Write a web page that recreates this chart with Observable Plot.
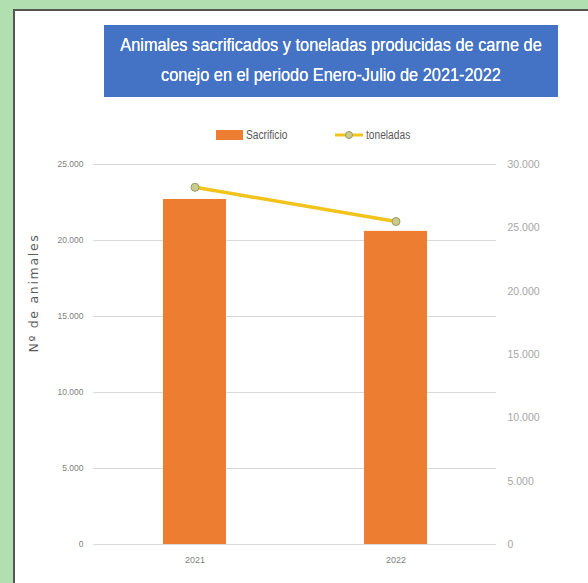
<!DOCTYPE html>
<html>
<head>
<meta charset="utf-8">
<script src="https://cdn.jsdelivr.net/npm/d3@7"></script>
<script src="https://cdn.jsdelivr.net/npm/@observablehq/plot@0.6"></script>
<style>
  html, body { margin: 0; padding: 0; }
  body { width: 588px; height: 583px; background: #b2dfb0; position: relative; overflow: hidden; font-family: "Liberation Sans", sans-serif; }
  #panel { position: absolute; left: 13px; top: 9px; width: 580px; height: 580px; background: #fff; border-left: 2px solid #555; border-top: 2px solid #555; }
  #title { position: absolute; left: 104px; top: 25px; width: 454px; height: 72px; background: #4472c4; color: #fff; }
  #title div { position: absolute; left: 50%; white-space: nowrap; font-size: 19px; transform: translateX(-50%) scaleX(0.86); transform-origin: center; text-shadow: 0 0 0.4px #fff; }
  #legend { position: absolute; top: 126px; left: 0; width: 588px; height: 18px; font-size: 12px; color: #595959; }
  .lg { position: absolute; display: flex; align-items: center; height: 18px; }
  .narrow { display: inline-block; transform: scaleX(0.85); transform-origin: left center; }
  #ylab { position: absolute; left: 33px; top: 293px; transform: translate(-50%, -50%) rotate(-90deg); font-family: "DejaVu Sans", sans-serif; font-size: 12.5px; letter-spacing: 1.7px; color: #595959; white-space: nowrap; }
  #chart { position: absolute; left: 14px; top: 150px; }
</style>
</head>
<body>
<div id="panel"></div>
<div id="title">
  <div style="top:9px">Animales sacrificados y toneladas producidas de carne de</div>
  <div style="top:39px">conejo en el periodo Enero-Julio de 2021-2022</div>
</div>
<div id="legend">
  <div class="lg" style="left:216px"><span style="display:inline-block;width:27px;height:10px;background:#ed7d31;margin-right:3px"></span><span class="narrow">Sacrificio</span></div>
  <div class="lg" style="left:335px"><svg width="28" height="12"><line x1="0" y1="6" x2="28" y2="6" stroke="#f2c31b" stroke-width="3"/><circle cx="14" cy="6" r="3.5" fill="#c9cc8a" stroke="#9a9a66" stroke-width="1"/></svg><span class="narrow" style="margin-left:3px">toneladas</span></div>
</div>
<div id="ylab">Nº de animales</div>
<div id="chart"></div>
<script>
const years = ["2021", "2022"];
const sacrificio = [22700, 20600];
const toneladas = [28200, 25500];
const leftTicks = [0, 5000, 10000, 15000, 20000, 25000];
const rightTicks = [0, 5000, 10000, 15000, 20000, 25000, 30000];
const leftMax = 25000, rightMax = 30000;

const k = leftMax / rightMax;
const fmt = d3.formatLocale({decimal: ",", thousands: ".", grouping: [3], currency: ["", "€"]}).format(",");
const barData = years.map((y, i) => ({year: y, value: sacrificio[i]}));
const lineData = years.map((y, i) => ({year: y, value: toneladas[i]}));

const chart = Plot.plot({
  width: 574,
  height: 433,
  marginLeft: 79,
  marginRight: 92,
  marginTop: 14,
  marginBottom: 39,
  style: {fontFamily: "'Liberation Sans', sans-serif", fontSize: "9px", color: "#7f7f7f", background: "transparent"},
  x: {domain: years, padding: 0, label: null},
  y: {domain: [0, leftMax], label: null},
  marks: [
    Plot.gridY(leftTicks, {stroke: "#d9d9d9", strokeOpacity: 1, strokeWidth: 1}),
    Plot.axisY(leftTicks, {anchor: "left", tickSize: 0, tickPadding: 10, tickFormat: fmt, fill: "#7f7f7f", fontSize: 8.5, label: null}),
    Plot.axisY(rightTicks.map(v => v * k), {anchor: "right", tickSize: 0, tickPadding: 11, tickFormat: v => fmt(Math.round(v / k)), fill: "#a6a6a6", fontSize: 10.5, textAnchor: "start", label: null}),
    Plot.barY(barData, {x: "year", y: "value", fill: "#ed7d31", insetLeft: 69, insetRight: 69}),
    Plot.axisX({tickSize: 0, tickPadding: 12, fill: "#7f7f7f", fontSize: 9, label: null}),
    Plot.line(lineData, {x: "year", y: d => d.value * k, stroke: "#f2c31b", strokeWidth: 3.5}),
    Plot.dot(lineData, {x: "year", y: d => d.value * k, r: 4, fill: "#c9cc8a", stroke: "#9a9a66", strokeWidth: 1})
  ]
});
document.getElementById("chart").appendChild(chart);
</script>
</body>
</html>
